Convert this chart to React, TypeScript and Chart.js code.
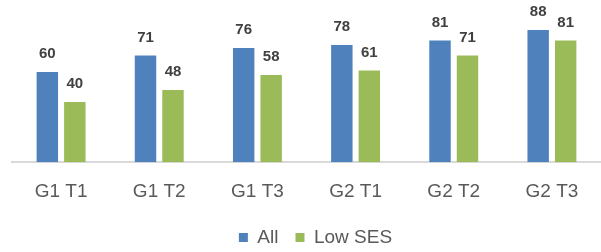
import React, { useEffect, useRef } from "react";
import { Chart, registerables } from "chart.js";

Chart.register(...registerables);

const categories = ["G1 T1", "G1 T2", "G1 T3", "G2 T1", "G2 T2", "G2 T3"];
const allValues = [60, 71, 76, 78, 81, 88];
const lowSesValues = [40, 48, 58, 61, 71, 81];
const seriesNames = ["All", "Low SES"];

const FONT = "'Liberation Sans', Arial, sans-serif";

const valueLabels = {
  id: "valueLabels",
  afterDatasetsDraw(chart: any) {
    const ctx = chart.ctx;
    ctx.save();
    ctx.font = `bold 15px ${FONT}`;
    ctx.fillStyle = "#404040";
    ctx.textAlign = "center";
    ctx.textBaseline = "middle";
    chart.data.datasets.forEach((ds: any, i: number) => {
      const meta = chart.getDatasetMeta(i);
      meta.data.forEach((el: any, j: number) => {
        ctx.fillText(String(ds.data[j]), el.x, el.y - 18);
      });
    });
    ctx.restore();
  },
};

const legendShift = {
  id: "legendShift",
  afterLayout(chart: any) {
    if (chart.legend) {
      chart.legend.left += 9;
      chart.legend.right += 9;
    }
  },
};

export default function App() {
  const ref = useRef<HTMLCanvasElement>(null);
  useEffect(() => {
    if (!ref.current) return;
    const chart = new Chart(ref.current, {
      type: "bar",
      data: {
        labels: categories,
        datasets: [
          {
            label: seriesNames[0],
            data: allValues,
            backgroundColor: "#4F81BD",
            categoryPercentage: 0.56,
            barPercentage: 0.78,
          },
          {
            label: seriesNames[1],
            data: lowSesValues,
            backgroundColor: "#9BBB59",
            categoryPercentage: 0.56,
            barPercentage: 0.78,
          },
        ],
      },
      options: {
        responsive: false,
        animation: false,
        layout: { padding: { left: 12, right: 0, top: 12, bottom: -5 } },
        scales: {
          x: {
            grid: { display: false, drawTicks: false },
            border: { display: true, color: "#d9d9d9", width: 2 },
            ticks: {
              padding: 18,
              color: "#595959",
              font: { family: FONT, size: 19 },
            },
            afterFit: (axis: any) => {
              axis.height -= 10;
            },
          },
          y: {
            display: false,
            min: 0,
            max: 100,
          },
        },
        plugins: {
          legend: {
            position: "bottom",
            labels: {
              boxWidth: 9,
              boxHeight: 9,
              padding: 17,
              color: "#595959",
              font: { family: FONT, size: 19 },
            },
          },
          tooltip: { enabled: false },
        },
      },
      plugins: [valueLabels, legendShift],
    });
    return () => chart.destroy();
  }, []);
  return (
    <div style={{ position: "absolute", left: 0, top: 0, width: 601, height: 252 }}>
      <canvas ref={ref} width={601} height={252} />
    </div>
  );
}
